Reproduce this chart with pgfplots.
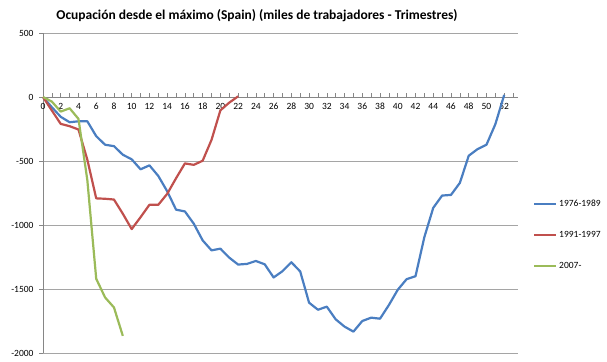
\documentclass[border=0pt]{standalone}
\usepackage{fontspec}
\setmainfont{Carlito}
\usepackage{pgfplots}
\pgfplotsset{compat=1.18}
\definecolor{cblue}{RGB}{74,126,193}
\definecolor{cred}{RGB}{192,80,77}
\definecolor{cgreen}{RGB}{155,187,89}
\definecolor{cgrid}{RGB}{165,165,165}
\definecolor{caxis}{RGB}{134,134,134}
\begin{document}
\begin{tikzpicture}[x=1pt,y=1pt]
\useasboundingbox (0,0) rectangle (607,361);
\node[font=\bfseries\fontsize{13.5}{16}\selectfont] at (257,345) {Ocupación desde el máximo (Spain) (miles de trabajadores - Trimestres)};
\begin{axis}[
  at={(43pt,8pt)}, anchor=south west,
  scale only axis, width=474.5pt, height=320pt,
  xmin=0, xmax=53.5, ymin=-2000, ymax=500,
  axis x line=middle, axis y line=left,
  axis line style={caxis, line width=0.8pt, -},
  hide obscured x ticks=false,
  xtick={0,2,...,52}, minor xtick={1,3,...,53},
  ytick={-2000,-1500,-1000,-500,0,500},
  ymajorgrids, grid style={cgrid, line width=0.9pt},
  major tick length=4pt, minor tick length=4pt,
  tick style={caxis, line width=0.6pt},
  ytick align=outside, xtick align=inside,
  /pgf/number format/assume math mode=true,
  /pgf/number format/set thousands separator={},
  xticklabel style={font=\fontsize{9.5}{11}\selectfont, yshift=-2.5pt},
  yticklabel style={font=\fontsize{9.5}{11}\selectfont, xshift=-2pt},
  legend style={at={(1.026,0.369)}, anchor=west, draw=none, fill=none,
    font=\fontsize{9.5}{11}\selectfont, row sep=19pt},
  legend cell align=left,
  legend image code/.code={\draw[#1] (0pt,0pt) -- (22pt,0pt);},
  every axis plot/.append style={line width=2.2pt, no marks, line join=round},
  clip=false,
]
\addplot[cblue] coordinates {
(0,0) (1,-80) (2,-155) (3,-197) (4,-190) (5,-190) (6,-306) (7,-373) (8,-384) (9,-451)
(10,-487) (11,-565) (12,-534) (13,-617) (14,-736) (15,-880) (16,-894) (17,-990) (18,-1120) (19,-1198)
(20,-1185) (21,-1255) (22,-1309) (23,-1304) (24,-1281) (25,-1307) (26,-1410) (27,-1361) (28,-1291) (29,-1363)
(30,-1607) (31,-1662) (32,-1638) (33,-1737) (34,-1794) (35,-1833) (36,-1750) (37,-1724) (38,-1732) (39,-1625)
(40,-1506) (41,-1423) (42,-1400) (43,-1094) (44,-866) (45,-770) (46,-765) (47,-671) (48,-459) (49,-407)
(50,-373) (51,-213) (52,16)
};
\addlegendentry{1976-1989}
\addplot[cred] coordinates {
(0,0) (1,-106) (2,-210) (3,-228) (4,-254) (5,-490) (6,-792) (7,-795) (8,-801) (9,-912)
(10,-1032) (11,-939) (12,-842) (13,-842) (14,-757) (15,-635) (16,-519) (17,-530) (18,-498) (19,-335)
(20,-104) (21,-44) (22,5)
};
\addlegendentry{1991-1997}
\addplot[cgreen] coordinates {
(0,0) (1,-36) (2,-114) (3,-88) (4,-171) (5,-650) (6,-1420) (7,-1566) (8,-1644) (9,-1866)
};
\addlegendentry{2007-}
\end{axis}
\end{tikzpicture}
\end{document}
